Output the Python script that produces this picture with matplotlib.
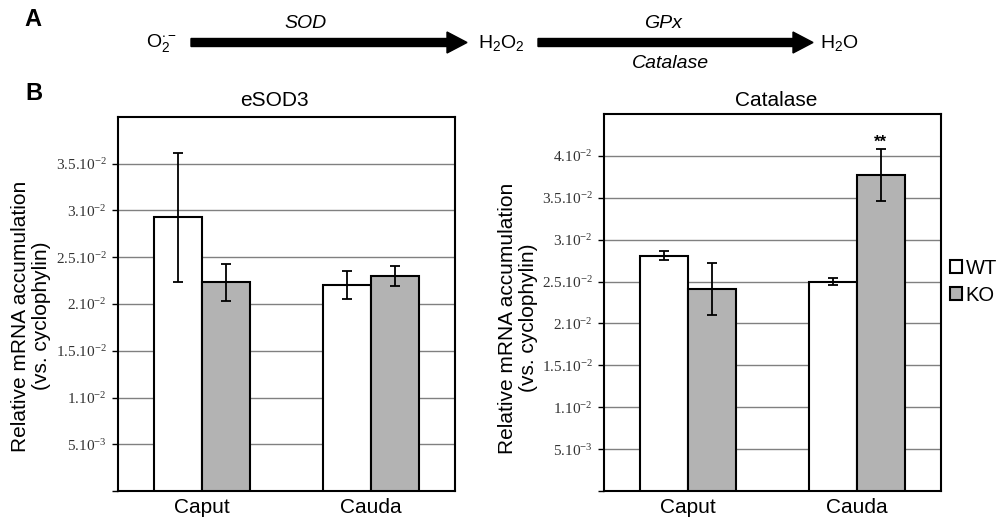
import matplotlib
matplotlib.use("Agg")
import matplotlib.pyplot as plt
import matplotlib.transforms as mtransforms
from matplotlib.patches import Patch
import numpy as np

plt.rcParams["font.family"] = ["Liberation Sans", "DejaVu Sans"]
plt.rcParams["mathtext.fontset"] = "custom"
plt.rcParams["mathtext.rm"] = "Liberation Serif"
plt.rcParams["mathtext.sf"] = "Liberation Sans"
plt.rcParams["mathtext.it"] = "Liberation Serif:italic"

# ── data ─────────────────────────────────────────────────────────────────────
regions = ["Caput", "Cauda"]
genotypes = ["WT", "KO"]

esod3_wt = [0.0293, 0.0220]
esod3_wt_err = [0.0069, 0.0015]
esod3_ko = [0.0223, 0.0230]
esod3_ko_err = [0.0020, 0.0011]

cat_wt = [0.0281, 0.0250]
cat_wt_err = [0.0005, 0.0004]
cat_ko = [0.0241, 0.0377]
cat_ko_err = [0.0031, 0.0031]

esod3_ticks = [0, 0.005, 0.01, 0.015, 0.02, 0.025, 0.03, 0.035]
esod3_ticklabels = ["", r"$5.10^{-3}$", r"$1.10^{-2}$", r"$1.5.10^{-2}$",
                    r"$2.10^{-2}$", r"$2.5.10^{-2}$", r"$3.10^{-2}$", r"$3.5.10^{-2}$"]
cat_ticks = [0, 0.005, 0.01, 0.015, 0.02, 0.025, 0.03, 0.035, 0.04]
cat_ticklabels = esod3_ticklabels + [r"$4.10^{-2}$"]

C_WT = "white"
C_KO = "#b3b3b3"

W, H = 1007, 521
fig = plt.figure(figsize=(W / 100, H / 100), dpi=100)


def draw_panel(ax, wt, wt_err, ko, ko_err, ticks, ticklabels, top):
    x = np.arange(len(regions))
    w = 0.285
    ax.bar(x - w / 2, wt, w, color=C_WT, edgecolor="black", linewidth=1.5, zorder=3)
    ax.bar(x + w / 2, ko, w, color=C_KO, edgecolor="black", linewidth=1.5, zorder=3)
    for xs, ys, es in ((x - w / 2, wt, wt_err), (x + w / 2, ko, ko_err)):
        ax.errorbar(xs, ys, yerr=es, fmt="none", ecolor="black", elinewidth=1.3,
                    capsize=3.5, capthick=1.3, zorder=4)
    ax.set_xlim(-0.5, 1.5)
    ax.set_ylim(0, top)
    ax.set_yticks(ticks)
    ax.set_yticklabels(ticklabels, fontsize=11, color="#333333")
    # labels sit a little above their gridline in the original
    shift = mtransforms.ScaledTranslation(0, 3 / 100, fig.dpi_scale_trans)
    for lbl in ax.get_yticklabels():
        lbl.set_transform(lbl.get_transform() + shift)
    ax.yaxis.grid(True, color="#808080", linewidth=1.0)
    ax.set_axisbelow(True)
    ax.set_xticks(x)
    ax.set_xticklabels(regions, fontsize=15)
    ax.tick_params(axis="x", length=0, pad=5)
    ax.tick_params(axis="y", length=4, width=1, pad=4)
    for s in ax.spines.values():
        s.set_linewidth(1.5)


ax_l = fig.add_axes([118 / W, 1 - 491 / H, 337 / W, 374 / H])
draw_panel(ax_l, esod3_wt, esod3_wt_err, esod3_ko, esod3_ko_err,
           esod3_ticks, esod3_ticklabels, 0.04)

ax_r = fig.add_axes([604 / W, 1 - 491 / H, 337 / W, 377 / H])
draw_panel(ax_r, cat_wt, cat_wt_err, cat_ko, cat_ko_err,
           cat_ticks, cat_ticklabels, 0.045)
ax_r.text(1 + 0.1425, cat_ko[1] + cat_ko_err[1] + 0.0008, "**",
          ha="center", va="center", fontsize=12, fontweight="bold")

fig.legend(handles=[Patch(facecolor=C_WT, edgecolor="black", linewidth=1.5, label="WT"),
                    Patch(facecolor=C_KO, edgecolor="black", linewidth=1.5, label="KO")],
           loc="center left", bbox_to_anchor=(950 / W, 1 - 282 / H), frameon=False,
           fontsize=14.5, handlelength=0.62, handleheight=0.62, handletextpad=0.15,
           labelspacing=0.4, borderpad=0, borderaxespad=0)

# ── overlay in pixel coords: scheme (A), titles, labels ──────────────────────
ov = fig.add_axes([0, 0, 1, 1])
ov.set_xlim(0, W)
ov.set_ylim(H, 0)
ov.axis("off")

ov.text(33, 20, "A", fontsize=17, fontweight="bold", ha="center", va="center")
ov.text(34, 94, "B", fontsize=17, fontweight="bold", ha="center", va="center")

for x0, x1 in ((191, 467), (538, 813)):
    ov.arrow(x0, 42.5, x1 - x0, 0, width=8, head_width=21, head_length=20,
             length_includes_head=True, color="black")

ov.text(146, 43, r"$\mathsf{O_2^{\bullet -}}$", fontsize=14, ha="left", va="center")
ov.text(478, 43, r"$\mathsf{H_2O_2}$", fontsize=14, ha="left", va="center")
ov.text(820, 43, r"$\mathsf{H_2O}$", fontsize=14, ha="left", va="center")
ov.text(306, 24, "SOD", fontsize=14, style="italic", ha="center", va="center")
ov.text(663, 23, "GPx", fontsize=14, style="italic", ha="center", va="center")
ov.text(670, 63, "Catalase", fontsize=14, style="italic", ha="center", va="center")

ov.text(274, 100, "eSOD3", fontsize=15, ha="center", va="center")
ov.text(776, 100, "Catalase", fontsize=15, ha="center", va="center")

ylab = "Relative mRNA accumulation\n(vs. cyclophylin)"
ov.text(31, 316, ylab, fontsize=15, rotation=90, ha="center", va="center",
        multialignment="center", linespacing=1.15)
ov.text(518, 318, ylab, fontsize=15, rotation=90, ha="center", va="center",
        multialignment="center", linespacing=1.15)

fig.savefig("out.png", dpi=100)
